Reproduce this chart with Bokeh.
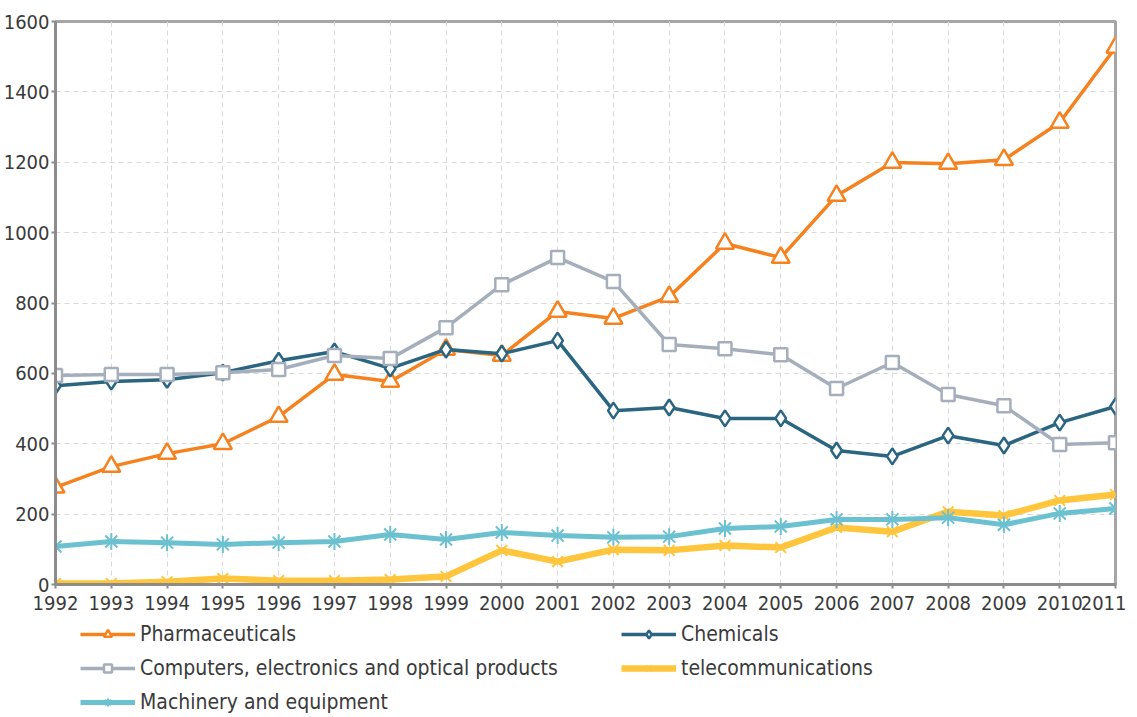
from bokeh.plotting import figure
from bokeh.models import Legend, LegendItem, FixedTicker, Range1d
from bokeh.layouts import column
from bokeh.embed import file_html
from bokeh.resources import INLINE

years = list(range(1992, 2012))
pharma = [276, 335, 372, 400, 477, 597, 577, 668, 651, 776, 756, 818, 969, 929, 1105, 1199, 1196, 1207, 1313, 1526]
chemicals = [565, 577, 582, 602, 636, 662, 614, 668, 656, 693, 494, 503, 472, 472, 381, 364, 423, 395, 460, 506]
computers = [594, 597, 597, 602, 611, 651, 642, 730, 852, 929, 861, 682, 670, 653, 557, 631, 540, 508, 398, 403]
telecom = [3, 3, 8, 17, 11, 11, 14, 23, 97, 65, 99, 97, 111, 105, 162, 150, 207, 196, 239, 256]
machinery = [108, 122, 119, 114, 119, 122, 142, 128, 148, 139, 134, 136, 159, 165, 185, 185, 190, 170, 202, 216]
y_ticks = [0, 200, 400, 600, 800, 1000, 1200, 1400, 1600]
names = ["Pharmaceuticals", "Chemicals", "Computers, electronics and optical products",
         "telecommunications", "Machinery and equipment"]

FONT = "DejaVu Sans Condensed"
FS = "20px"

p = figure(frame_width=1060, frame_height=563, output_backend="svg", toolbar_location=None,
           x_range=Range1d(1992, 2011), y_range=Range1d(0, 1600),
           min_border_left=49, min_border_right=11, min_border_top=21, min_border_bottom=36)

p.xaxis.ticker = FixedTicker(ticks=years)
p.yaxis.ticker = FixedTicker(ticks=y_ticks)
for ax in (p.xaxis[0], p.yaxis[0]):
    ax.axis_line_color = "#8c8c8c"
    ax.axis_line_width = 3
    ax.major_tick_line_color = "#8c8c8c"
    ax.major_tick_line_width = 2
    ax.major_tick_in = 0
    ax.major_tick_out = 4
    ax.minor_tick_line_color = None
    ax.major_label_text_font = FONT
    ax.major_label_text_font_size = FS
    ax.major_label_text_color = "#3a3a3a"
p.xaxis.major_label_standoff = 7
p.yaxis.major_label_standoff = 2

p.xgrid.grid_line_color = "#d9d9d9"
p.ygrid.grid_line_color = "#d9d9d9"
p.xgrid.grid_line_dash = "5 4"
p.ygrid.grid_line_dash = "5 4"
p.outline_line_color = "#a6a6a6"
p.outline_line_width = 3

# legend figure: same series drawn outside its visible range, only the legend shows
pl = figure(width=1120, height=94, output_backend="svg", toolbar_location=None,
            x_axis_location=None, y_axis_location=None,
            x_range=Range1d(0, 1), y_range=Range1d(0, 1),
            min_border_left=0, min_border_right=0, min_border_top=0, min_border_bottom=0)
pl.grid.visible = False
pl.outline_line_color = None

styles = [
    ("#F5821F", 3.5, "triangle", 18, 2.5),
    ("#2A6581", 3.5, "diamond", 16, 2.5),
    ("#A5AFBC", 3.5, "square", 13, 2.5),
    ("#FFC53D", 6.5, "x", 15, 2),
    ("#6CC1D0", 5, "asterisk", 17, 2),
]
series = [pharma, chemicals, computers, telecom, machinery]

items = []
for i in range(5):
    color, lw, marker, msize, mlw = styles[i]
    fill = "white" if marker in ("triangle", "diamond", "square") else None
    p.line(years, series[i], line_color=color, line_width=lw)
    p.scatter(years, series[i], marker=marker, size=msize, line_color=color,
              fill_color=fill, line_width=mlw)
    l2 = pl.line(years, series[i], line_color=color, line_width=lw)
    s2 = pl.scatter(years, series[i], marker=marker, size=msize, line_color=color,
                    fill_color=fill, line_width=mlw)
    items.append(LegendItem(label=names[i], renderers=[l2, s2]))

lg = Legend(items=items, ncols=2, orientation="horizontal", location=(25, 0))
lg.label_text_font = FONT
lg.label_text_font_size = "21px"
lg.label_text_color = "#3a3a3a"
lg.glyph_width = 55
lg.glyph_height = 20
lg.label_height = 20
lg.label_width = 471
lg.spacing = 10
lg.label_standoff = 5
lg.border_line_color = None
lg.background_fill_alpha = 0
lg.padding = 0
lg.margin = 0
pl.add_layout(lg)

layout = column(p, pl, spacing=0)
open("out.html", "w").write(file_html(layout, INLINE))
